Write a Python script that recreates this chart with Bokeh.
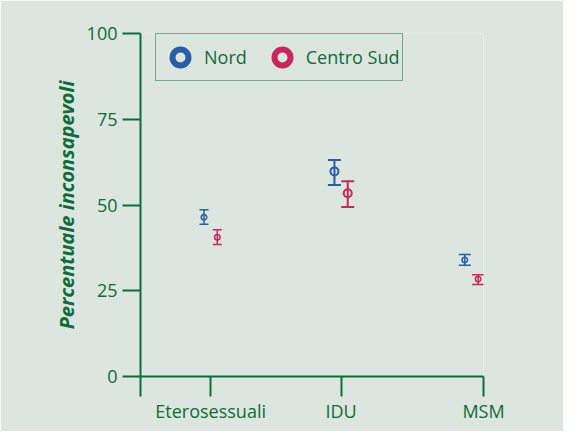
import re
import numpy as np
from bokeh.plotting import figure
from bokeh.models import (ColumnDataSource, Range1d, FixedTicker, Legend,
                          LegendItem)
from bokeh.embed import file_html
from bokeh.resources import INLINE

# ---- data ----
categories = ["Eterosessuali", "IDU", "MSM"]
nord_value = [46.4, 59.8, 34.0]
nord_low = [44.4, 55.8, 32.4]
nord_high = [48.6, 63.1, 35.6]
cs_value = [40.6, 53.4, 28.4]
cs_low = [38.5, 49.4, 26.8]
cs_high = [42.8, 56.9, 29.7]
y_ticks = [0, 25, 50, 75, 100]
series_labels = ["Nord", "Centro Sud"]

# ---- styles ----
BG = "#dde6de"
GREEN = "#0f6a3c"
BLUE = "#2c5ca6"
RED = "#c8265e"
FONT = "Open Sans"
marker_sizes = [5.5, 8, 5.5]
line_widths = [1.5, 2, 1.5]
cap_widths = [9, 13, 12]
dodge = 0.051
x_start, x_end = 0.462, 3.092

idx = np.arange(1, len(categories) + 1)

p = figure(width=563, height=431, output_backend="svg", toolbar_location=None,
           x_range=Range1d(x_start, x_end), y_range=Range1d(0, 100),
           min_border_left=140, min_border_right=80, min_border_top=33,
           min_border_bottom=55, background_fill_color=BG,
           border_fill_color=BG, outline_line_color=None)
p.xgrid.visible = False
p.ygrid.visible = False

def draw_series(vals, lows, highs, color, offset):
    src = ColumnDataSource(dict(x=idx + offset, y=vals, lo=lows, hi=highs,
                                s=marker_sizes, lw=line_widths, cw=cap_widths))
    p.segment(x0="x", y0="lo", x1="x", y1="hi", source=src,
              line_color=color, line_width="lw")
    p.scatter(x="x", y="lo", marker="dash", size="cw", source=src,
              line_color=color, line_width="lw")
    p.scatter(x="x", y="hi", marker="dash", size="cw", source=src,
              line_color=color, line_width="lw")
    p.scatter(x="x", y="y", marker="circle", size="s", source=src,
              line_color=color, line_width="lw", fill_alpha=0)

draw_series(nord_value, nord_low, nord_high, BLUE, -dodge)
draw_series(cs_value, cs_low, cs_high, RED, dodge)

# legend entries (not drawn in the plot area)
leg_n = p.scatter(x=[np.nan], y=[np.nan], marker="circle", line_color=BLUE,
                  line_width=6, fill_alpha=0)
leg_c = p.scatter(x=[np.nan], y=[np.nan], marker="circle", line_color=RED,
                  line_width=6, fill_alpha=0)
legend = Legend(items=[LegendItem(label=series_labels[0], renderers=[leg_n]),
                       LegendItem(label=series_labels[1], renderers=[leg_c])],
                orientation="horizontal", location=(15, 295),
                glyph_width=42, glyph_height=40, padding=3, spacing=14,
                label_standoff=3, margin=0,
                border_line_color=GREEN, border_line_width=1.5,
                background_fill_color=BG, background_fill_alpha=1,
                label_text_font=FONT, label_text_font_size="18px",
                label_text_color=GREEN)
p.add_layout(legend)

# axes
for ax in (p.xaxis, p.yaxis):
    ax.axis_line_color = GREEN
    ax.axis_line_width = 2
    ax.major_tick_line_color = GREEN
    ax.major_tick_line_width = 2
    ax.minor_tick_line_color = None
    ax.major_tick_in = 0
    ax.major_label_text_font = FONT
    ax.major_label_text_font_size = "18px"
    ax.major_label_text_color = GREEN

p.yaxis.ticker = FixedTicker(ticks=y_ticks)
p.yaxis.major_tick_out = 18
p.yaxis.major_label_standoff = 5
p.yaxis.axis_label = "Percentuale inconsapevoli"
p.yaxis.axis_label_text_font = FONT
p.yaxis.axis_label_text_font_style = "bold italic"
p.yaxis.axis_label_text_font_size = "20px"
p.yaxis.axis_label_text_color = GREEN
p.yaxis.axis_label_standoff = 4

x_ticks = [x_start, 1.0, 2.0, x_end]
p.xaxis.ticker = FixedTicker(ticks=x_ticks)
p.xaxis.major_label_overrides = {x_start: "", 1.0: categories[0],
                                 2.0: categories[1], x_end: categories[2]}
p.xaxis.major_tick_out = 20
p.xaxis.major_label_standoff = 2

html = file_html(p, INLINE, title="")
html = re.sub(r"<body[^>]*>", '<body style="background-color:%s;">' % BG, html, count=1)
open("out.html", "w").write(html)
